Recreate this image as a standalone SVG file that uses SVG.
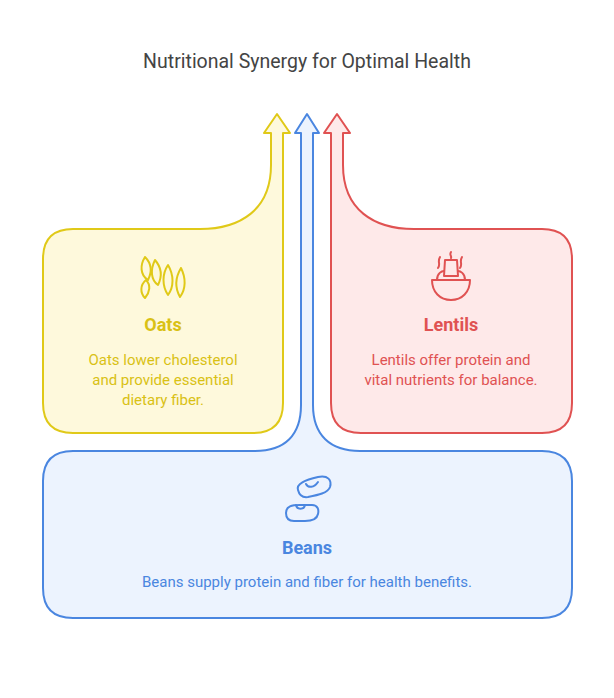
<svg xmlns="http://www.w3.org/2000/svg" width="614" height="698" viewBox="0 0 614 698">
<style>
text{font-family:Roboto,"Liberation Sans",sans-serif;text-anchor:middle}
.t{font-size:19.5px;fill:#444}
.h{font-size:18px;font-weight:bold}
.d{font-size:15px}
.sh{stroke-width:2;stroke-linejoin:round}
.ic{fill:none;stroke-width:2;stroke-linecap:round;stroke-linejoin:round}
</style>
<rect width="614" height="698" fill="#fff"/>
<text class="t" x="307" y="68">Nutritional Synergy for Optimal Health</text>
<g id="connectors"></g>
<g id="beans">
<path class="sh" fill="#ecf3fe" stroke="#4a86e0" d="M301,133 L295,133 L307,114 L319,133 L313,133 L313,405 C313,435 330,451 360,451 L542,451 Q572,451 572,481 L572,588 Q572,618 542,618 L73,618 Q43,618 43,588 L43,481 Q43,451 73,451 L255,451 C285,451 301,435 301,405 Z"/>
<g class="ic" stroke="#4a86e0">
<path d="M298,490 C296,484 305,480 318,477 C328,475 332,480 330,487 C328,493 318,495 308,497 C301,498 299,494 298,490 Z"/>
<path d="M306,484 C308,488 314,488 318,482"/>
<path d="M286,513 C286,506 292,505 300,505 L312,505 C318,505 319,510 318,514 C317,519 313,521 305,521 L294,521 C288,521 286,518 286,513 Z"/>
<path d="M296,505 C297,510 304,510 305,505"/>
</g>
<text class="h" x="307" y="554" fill="#4a86e0">Beans</text>
<text class="d" x="307" y="587" fill="#4a86e0">Beans supply protein and fiber for health benefits.</text>
</g>
<g id="oats">
<path class="sh" fill="#fef9dc" stroke="#e0c918" d="M283,133 L290,133 L277,114 L264,133 L271,133 L271,165 C271,210 240,229 200,229 L73,229 Q43,229 43,259 L43,403 Q43,433 73,433 L253,433 Q283,433 283,403 Z"/>
<g class="ic" stroke="#e0c918">
<path d="M145,257 C140,265 140,275 148,280 C152,272 152,264 145,257 Z"/>
<path d="M155,260 C150,270 151,280 158,285 C162,277 162,268 155,260 Z"/>
<path d="M146,280 C140,285 140,293 145,298 C150,292 151,285 146,280 Z"/>
<path d="M168,265 C162,274 162,286 168,295 C174,287 174,275 168,265 Z"/>
<path d="M181,268 C175,278 175,288 180,297 C186,289 186,278 181,268 Z"/>
</g>
<text class="h" x="163" y="331" fill="#d9c115">Oats</text>
<text class="d" x="163" y="365" fill="#d9c115">Oats lower cholesterol</text>
<text class="d" x="163" y="385" fill="#d9c115">and provide essential</text>
<text class="d" x="163" y="405" fill="#d9c115">dietary fiber.</text>
</g>
<g id="lentils">
<path class="sh" fill="#fee9e9" stroke="#e05252" d="M331,133 L324,133 L337,114 L350,133 L343,133 L343,165 C343,210 374,229 414,229 L542,229 Q572,229 572,259 L572,403 Q572,433 542,433 L361,433 Q331,433 331,403 Z"/>
<g class="ic" stroke="#e05252">
<path d="M432,280 L470,280 C470,292 462,300 451,300 C440,300 432,292 432,280 Z"/>
<path d="M445,260 L457,260 L458,276 L444,276 Z"/>
<path d="M437,280 C437,273 442,271 444,271 M465,280 C465,273 460,271 458,271"/>
<path d="M440,257 C437,262 441,264 438,268 M462,257 C459,262 463,264 460,268 M451,252 C449,255 452,256 451,258"/>
</g>
<text class="h" x="451" y="331" fill="#e05252">Lentils</text>
<text class="d" x="451" y="365" fill="#e05252">Lentils offer protein and</text>
<text class="d" x="451" y="385" fill="#e05252">vital nutrients for balance.</text>
</g>
</svg>
